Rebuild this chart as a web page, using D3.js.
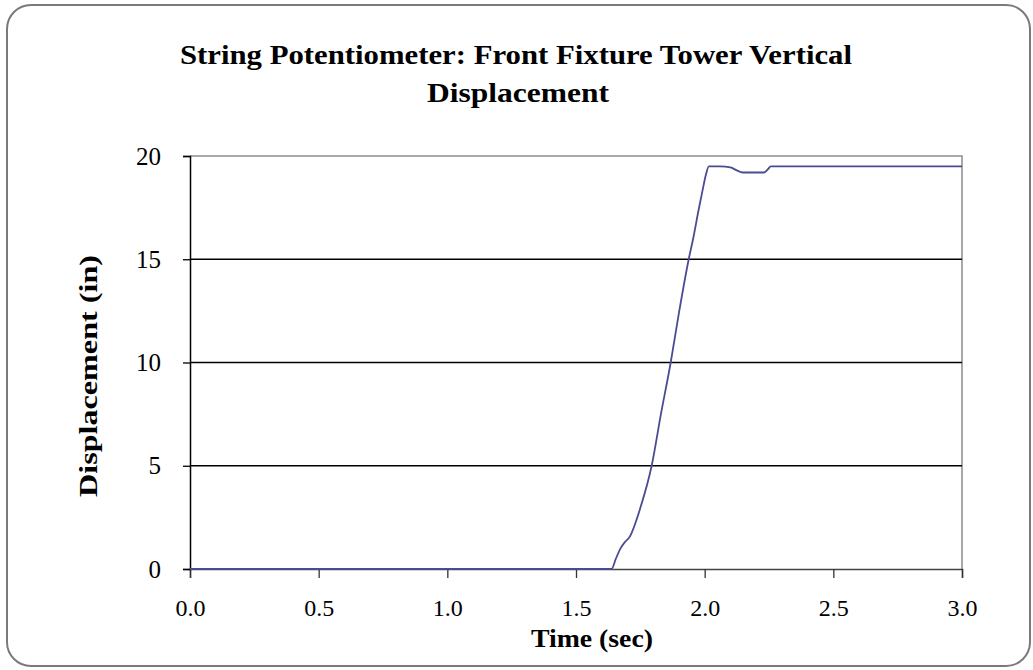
<!DOCTYPE html>
<html>
<head>
    <meta charset="utf-8">
    <title>String Potentiometer</title>
    <script src="https://d3js.org/d3.v7.min.js"></script>
    <style>
        body { margin: 0; background: #fff; }
        text { font-family: "Liberation Serif", "Times New Roman", serif; fill: #000; }
    </style>
</head>
<body>
    <div id="chart"></div>

    <script>
        // Values
        var timeSec = [0, 1.638, 1.655, 1.673, 1.69, 1.708, 1.751, 1.794, 1.83, 1.868, 1.90, 1.938,
                       1.957, 1.975, 1.992, 2.005, 2.016, 2.06, 2.10, 2.125, 2.148, 2.20, 2.23, 2.245, 2.257, 3.0];
        var dispIn = [0, 0, 0.5, 1.0, 1.3, 1.55, 3.0, 5.0, 7.5, 10, 12.4, 15,
                      16.1, 17.3, 18.35, 19.1, 19.5, 19.5, 19.45, 19.3, 19.2, 19.2, 19.2, 19.35, 19.5, 19.5];
        var xTicks = [0, 0.5, 1.0, 1.5, 2.0, 2.5, 3.0];
        var yTicks = [0, 5, 10, 15, 20];

        var W = 1033, H = 670;
        var margin = { top: 156, right: 71, bottom: 101, left: 190 };
        var width = W - margin.left - margin.right;
        var height = H - margin.top - margin.bottom;

        var svg = d3.select("#chart").append("svg")
            .attr("width", W)
            .attr("height", H);

        // Outer rounded frame
        svg.append("rect")
            .attr("x", 7).attr("y", 5)
            .attr("width", 1023).attr("height", 661)
            .attr("rx", 24).attr("ry", 24)
            .attr("fill", "#fff")
            .attr("stroke", "#7a7a7a")
            .attr("stroke-width", 2);

        var g = svg.append("g")
            .attr("transform", "translate(" + margin.left + "," + margin.top + ")");

        var x = d3.scaleLinear().domain([0, 3]).range([0, width]);
        var y = d3.scaleLinear().domain([0, 20]).range([height, 0]);

        // Plot area border (top and right in gray)
        g.append("path")
            .attr("d", "M0,0H" + width + "V" + height)
            .attr("fill", "none")
            .attr("stroke", "#8c8c8c")
            .attr("stroke-width", 1.5);

        // Gridlines
        g.append("g")
            .selectAll("line")
            .data(yTicks.filter(function (d) { return d > 0 && d < 20; }))
            .enter().append("line")
            .attr("x1", 0).attr("x2", width)
            .attr("y1", function (d) { return y(d); })
            .attr("y2", function (d) { return y(d); })
            .attr("stroke", "#000")
            .attr("stroke-width", 1.3);

        // X axis
        var xAxis = g.append("g")
            .attr("transform", "translate(0," + height + ")")
            .call(d3.axisBottom(x).tickValues(xTicks).tickFormat(d3.format(".1f")).tickSize(9).tickPadding(21));
        xAxis.select(".domain").attr("stroke", "#444").attr("stroke-width", 1.5);
        xAxis.selectAll(".tick line").attr("stroke", "#333").attr("stroke-width", 1.3);
        xAxis.selectAll("text").style("font-size", "24px").attr("fill", "#000");

        // Y axis
        var yAxis = g.append("g")
            .call(d3.axisLeft(y).tickValues(yTicks).tickSize(7).tickPadding(22));
        yAxis.select(".domain").attr("stroke", "#000").attr("stroke-width", 1.5);
        yAxis.selectAll(".tick line").attr("stroke", "#000").attr("stroke-width", 1.3);
        yAxis.selectAll("text").style("font-size", "25px").attr("fill", "#000");

        // Data line
        var pts = timeSec.map(function (t, i) { return [t, dispIn[i]]; });
        var line = d3.line()
            .x(function (d) { return x(d[0]); })
            .y(function (d) { return y(d[1]); })
            .curve(d3.curveMonotoneX);
        g.append("path")
            .datum(pts)
            .attr("d", line)
            .attr("fill", "none")
            .attr("stroke", "#4b4b94")
            .attr("stroke-width", 1.8);

        // Title
        svg.append("text")
            .attr("x", 516).attr("y", 64)
            .attr("text-anchor", "middle")
            .attr("textLength", 672)
            .attr("lengthAdjust", "spacingAndGlyphs")
            .style("font-size", "27px").style("font-weight", "bold")
            .text("String Potentiometer: Front Fixture Tower Vertical");
        svg.append("text")
            .attr("x", 518).attr("y", 102)
            .attr("text-anchor", "middle")
            .attr("textLength", 182)
            .attr("lengthAdjust", "spacingAndGlyphs")
            .style("font-size", "27px").style("font-weight", "bold")
            .text("Displacement");

        // Axis titles
        svg.append("text")
            .attr("x", 592).attr("y", 647)
            .attr("text-anchor", "middle")
            .attr("textLength", 122)
            .attr("lengthAdjust", "spacingAndGlyphs")
            .style("font-size", "25px").style("font-weight", "bold")
            .text("Time (sec)");
        svg.append("text")
            .attr("transform", "translate(97,376) rotate(-90)")
            .attr("text-anchor", "middle")
            .attr("textLength", 242)
            .attr("lengthAdjust", "spacingAndGlyphs")
            .style("font-size", "26px").style("font-weight", "bold")
            .text("Displacement (in)");
    </script>
</body>
</html>
